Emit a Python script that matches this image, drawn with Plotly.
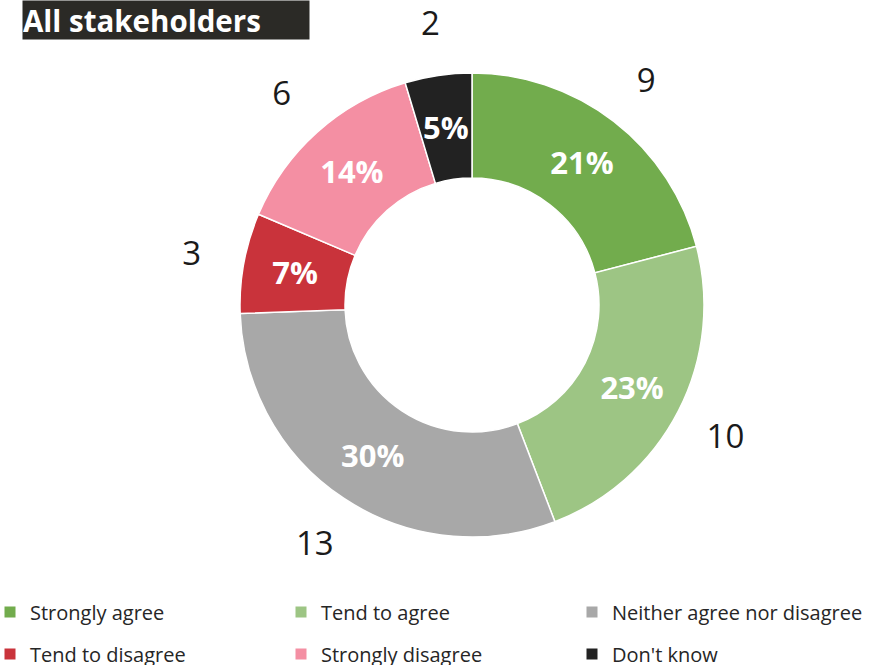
import plotly.graph_objects as go

categories = ["Strongly agree", "Tend to agree", "Neither agree nor disagree",
              "Tend to disagree", "Strongly disagree", "Don't know"]
counts = [9, 10, 13, 3, 6, 2]
colors = ["#72AC4D", "#9DC584", "#A8A8A8", "#C9333B", "#F48FA3", "#222222"]
title_text = "All stakeholders"

W, H = 874, 665
FONT = "Open Sans"

# derived: share, angular width and middle angle of each slice
total = sum(counts)
shares = [c / total for c in counts]
widths = [s * 360 for s in shares]
mid_angles = []
acc = 0.0
for w in widths:
    mid_angles.append(acc + w / 2)
    acc += w
pct_text = [f"{round(s * 100)}%" for s in shares]

# ring geometry in radial-axis units (outer radius of polar area = 1 -> 305 px)
R_PX = 305
HOLE, OUTER = 127 / R_PX, 232 / R_PX
R_PCT, R_CNT = 180 / R_PX, 285 / R_PX

fig = go.Figure()

# the donut ring
fig.add_trace(go.Barpolar(
    theta=mid_angles, width=widths, base=[HOLE] * len(counts),
    r=[OUTER - HOLE] * len(counts),
    marker=dict(color=colors, line=dict(color="white", width=1.5)),
    showlegend=False, hoverinfo="skip", subplot="polar",
))

# percentage labels inside the ring
fig.add_trace(go.Scatterpolar(
    r=[R_PCT] * len(counts), theta=mid_angles, mode="text", text=pct_text,
    textfont=dict(family=FONT, size=31, color="white", weight="bold"),
    showlegend=False, hoverinfo="skip", subplot="polar2",
))

# count labels around the ring
fig.add_trace(go.Scatterpolar(
    r=[R_CNT] * len(counts), theta=mid_angles, mode="text",
    text=[str(c) for c in counts],
    textfont=dict(family=FONT, size=33, color="#1a1a1a"),
    showlegend=False, hoverinfo="skip", subplot="polar2",
))

# legend entries (two rows)
for i, (cat, col) in enumerate(zip(categories, colors)):
    fig.add_trace(go.Scatter(
        x=[None], y=[None], mode="markers", name=cat,
        marker=dict(symbol="square", size=11, color=col),
        legend="legend" if i < 3 else "legend2",
    ))

legend_common = dict(
    orientation="h", xanchor="left", yanchor="middle", x=0,
    font=dict(family=FONT, size=20, color="#262626"),
    entrywidth=256, indentation=-10,
    bgcolor="rgba(0,0,0,0)", traceorder="normal",
)

polar_common = dict(
    bgcolor="rgba(0,0,0,0)", bargap=0,
    radialaxis=dict(visible=False, range=[0, 1]),
    angularaxis=dict(visible=False, direction="clockwise", rotation=90),
)

CX, CY = 472, 305
fig.update_layout(
    width=W, height=H,
    margin=dict(l=0, r=0, t=0, b=0, autoexpand=False),
    paper_bgcolor="white", plot_bgcolor="white",
    xaxis=dict(visible=False), yaxis=dict(visible=False),
    polar=dict(**polar_common,
               domain=dict(x=[(CX - R_PX) / W, (CX + R_PX) / W],
                           y=[1 - (CY + R_PX) / H, 1 - (CY - R_PX) / H])),
    polar2=dict(**polar_common,
                domain=dict(x=[(CX - R_PX) / W, (CX + R_PX) / W],
                            y=[1 - (CY + 4 + R_PX) / H, 1 - (CY + 4 - R_PX) / H])),
    legend=dict(**legend_common, y=1 - 612 / H),
    legend2=dict(**legend_common, y=1 - 654 / H),
    annotations=[dict(
        text="<b>" + title_text + "</b>", xref="paper", yref="paper",
        x=22 / W, y=1.0, xanchor="left", yanchor="top",
        width=286, height=38, align="left", valign="middle",
        bgcolor="#2B2A26", borderpad=0, showarrow=False,
        font=dict(family=FONT, size=29.5, color="white"),
    )],
)

fig.write_html("out.html", config={"displayModeBar": False},
               post_script="document.body.style.margin='0px';")
